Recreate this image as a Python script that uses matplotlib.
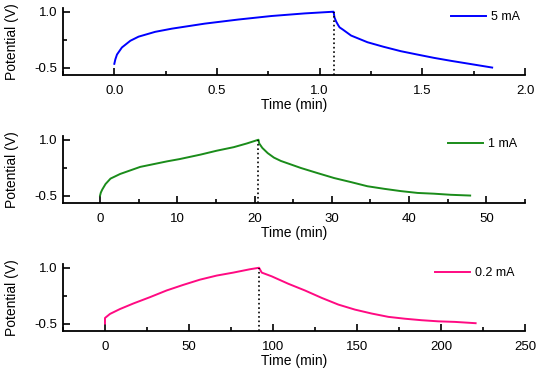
import matplotlib
matplotlib.use("Agg")
from matplotlib import pyplot as plt
from matplotlib.ticker import MultipleLocator, FixedLocator

plt.rcParams['font.family'] = ['Liberation Sans', 'DejaVu Sans']
plt.rcParams['axes.unicode_minus'] = False

# 5 mA
t5_charge = [0.0, 0.005, 0.013, 0.037, 0.078, 0.118, 0.199, 0.28, 0.44, 0.603, 0.765, 0.927, 1.065]
v5_charge = [-0.40, -0.28, -0.15, 0.04, 0.22, 0.33, 0.46, 0.545, 0.68, 0.79, 0.885, 0.955, 1.0]
t5_dis = [1.068, 1.072, 1.080, 1.089, 1.097, 1.113, 1.153, 1.233, 1.31, 1.395, 1.475, 1.557, 1.64, 1.718, 1.84]
v5_dis = [1.0, 0.85, 0.74, 0.65, 0.58, 0.52, 0.36, 0.18, 0.06, -0.06, -0.15, -0.24, -0.32, -0.39, -0.50]

# 1 mA
t1_charge = [0.0, 0.1, 0.28, 0.71, 1.35, 2.6, 5.2, 8.7, 10.3, 13.0, 15.1, 17.3, 19.0, 20.5]
v1_charge = [-0.5, -0.42, -0.34, -0.19, -0.045, 0.08, 0.27, 0.42, 0.48, 0.60, 0.705, 0.80, 0.90, 1.0]
t1_dis = [20.5, 20.6, 21.0, 21.7, 22.5, 23.4, 26.0, 28.2, 30.3, 32.5, 34.6, 36.8, 38.9, 41.1, 43.2, 45.4, 47.9]
v1_dis = [1.0, 0.90, 0.78, 0.64, 0.52, 0.43, 0.24, 0.10, -0.03, -0.14, -0.25, -0.32, -0.38, -0.43, -0.45, -0.48, -0.50]

# 0.2 mA
t02_charge = [0.0, 0.0, 3.0, 8.9, 16.9, 26.8, 36.7, 46.6, 56.5, 66.5, 76.4, 86.3, 91.7]
v02_charge = [-0.5, -0.35, -0.24, -0.11, 0.04, 0.21, 0.39, 0.54, 0.68, 0.79, 0.87, 0.96, 1.0]
t02_dis = [91.7, 93.3, 99.2, 109.1, 119.0, 129.0, 138.9, 148.8, 158.7, 168.7, 178.6, 188.5, 198.4, 208.3, 220.6]
v02_dis = [1.0, 0.87, 0.77, 0.57, 0.39, 0.19, 0.01, -0.125, -0.23, -0.32, -0.37, -0.41, -0.44, -0.455, -0.49]

labels = ['5 mA', '1 mA', '0.2 mA']
colors = ['#0000ff', '#1a8c1a', '#ff0a82']
xlims = [(-0.25, 2.0), (-4.8, 55), (-25, 250)]
xmajor = [0.5, 10, 50]
xminor = [0.25, 5, 25]
legend_pos = [(0.84, 0.866), (0.833, 0.88), (0.805, 0.866)]

data = [
    (t5_charge, v5_charge, t5_dis, v5_dis),
    (t1_charge, v1_charge, t1_dis, v1_dis),
    (t02_charge, v02_charge, t02_dis, v02_dis),
]

fig = plt.figure(figsize=(5.36, 3.78), dpi=100)
bottoms = [0.8016, 0.463, 0.1243]

for i in range(3):
    ax = fig.add_axes([0.1175, bottoms[i], 0.862, 0.1772])
    tc, vc, td, vd = data[i]
    ax.plot(tc + td, vc + vd, color=colors[i], lw=1.4, label=labels[i])
    # dotted line at the end of charge
    ax.plot([td[0], td[0]], [-0.7, vd[0]], color='black', ls=':', lw=1.2)

    ax.set_xlim(*xlims[i])
    ax.set_ylim(-0.7, 1.1)
    ax.xaxis.set_major_locator(MultipleLocator(xmajor[i]))
    ax.xaxis.set_minor_locator(MultipleLocator(xminor[i]))
    ax.yaxis.set_major_locator(FixedLocator([-0.5, 1.0]))
    ax.yaxis.set_minor_locator(FixedLocator([0.25]))
    ax.set_yticklabels(['-0.5', '1.0'])

    for s in ['top', 'right']:
        ax.spines[s].set_visible(False)
    for s in ['left', 'bottom']:
        ax.spines[s].set_linewidth(1.3)

    ax.tick_params(which='both', direction='in', width=1.2, labelsize=9.5)
    ax.tick_params(which='major', length=5)
    ax.tick_params(which='minor', length=3)
    ax.tick_params(axis='x', pad=7)
    ax.tick_params(axis='y', pad=4)

    ax.set_xlabel('Time (min)', fontsize=10, labelpad=1)
    ax.set_ylabel('Potential (V)', fontsize=10, labelpad=11)

    ax.legend(loc='center left', bbox_to_anchor=legend_pos[i], frameon=False,
              fontsize=9, handlelength=2.8, handletextpad=0.4,
              borderpad=0, borderaxespad=0)

plt.savefig('out.png', dpi=100)
